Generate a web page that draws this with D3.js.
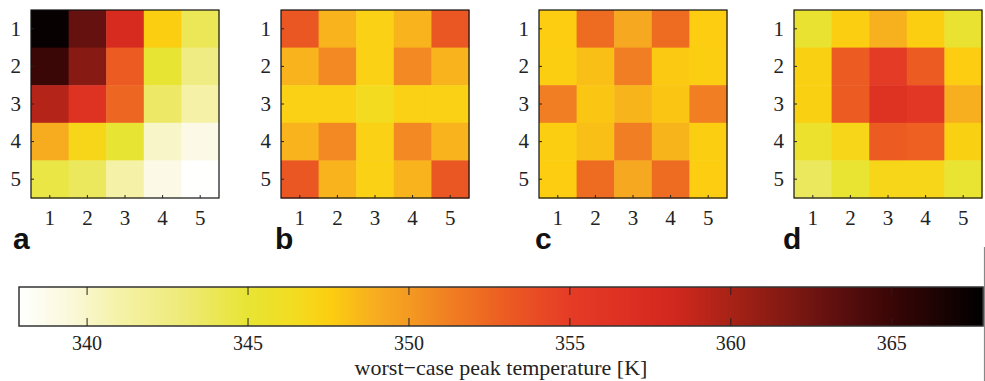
<!DOCTYPE html>
<html lang="en">
<head>
    <meta charset="UTF-8">
    <title>worst-case peak temperature</title>
    <style>
        html,body{
            margin:0;
            background:#fff;
            overflow:hidden;
        }
    </style>
</head>
<body>
    <svg id="svg"></svg>
    <script src="https://d3js.org/d3.v7.min.js"></script>
    <script>
        // peak temperature per cell [K], rows 1..5 (top to bottom), cols 1..5
        const panelA = [
            [367.5, 363.0, 357.5, 347.5, 344.0],
            [365.0, 361.5, 353.0, 345.0, 342.5],
            [359.5, 356.5, 352.5, 343.5, 341.0],
            [349.0, 347.0, 345.0, 340.0, 339.0],
            [344.5, 343.8, 341.0, 339.0, 338.0]
        ];
        const panelB = [
            [353.3, 348.7, 347.3, 348.7, 353.3],
            [348.7, 350.8, 347.3, 350.8, 348.7],
            [347.3, 347.3, 346.5, 347.3, 347.3],
            [348.7, 350.8, 347.3, 350.8, 348.7],
            [353.3, 348.7, 347.3, 348.7, 353.3]
        ];
        const panelC = [
            [347.6, 352.2, 349.2, 352.2, 347.6],
            [347.5, 348.2, 351.3, 347.8, 347.5],
            [351.3, 347.9, 348.6, 347.9, 351.3],
            [347.5, 348.2, 351.3, 348.6, 347.5],
            [347.6, 352.2, 349.2, 352.2, 347.6]
        ];
        const panelD = [
            [345.3, 347.5, 348.8, 347.5, 345.3],
            [347.4, 353.0, 355.2, 353.0, 347.6],
            [347.4, 353.0, 356.5, 355.7, 348.9],
            [345.5, 347.0, 353.0, 352.8, 347.4],
            [343.8, 345.2, 347.0, 347.0, 345.2]
        ];
        const panels = [
            { label: 'a', values: panelA },
            { label: 'b', values: panelB },
            { label: 'c', values: panelC },
            { label: 'd', values: panelD }
        ];
        const cells = [1, 2, 3, 4, 5];

        // colour scale
        const tempDomain = [337.9, 367.85];
        const stopValues = [337.9, 339.5, 341, 343, 345, 346.5, 347.6, 349, 350, 351.5, 353, 355, 357, 358.2, 360, 362, 363.5, 365, 367.85];
        const stopColors = ['#ffffff', '#faf8da', '#f5f2a8', '#eeea78', '#e8e434', '#f3dc20', '#fccd10', '#f7ac20', '#f49a22', '#f07a22',
            '#ec5c22', '#e53c26', '#dc2e22', '#d2281e', '#a82216', '#7c1812', '#5a0e0e', '#3a0606', '#000000'];
        const barTicks = [340, 345, 350, 355, 360, 365];
        const barTitle = 'worst\u2212case peak temperature [K]';

        const width = 985, height = 381;
        const svg = d3.select('#svg').attr('width', width).attr('height', height);

        const color = d3.scaleLinear().domain(stopValues).range(stopColors)
            .interpolate(d3.interpolateRgb).clamp(true);

        const panelLeft = [31, 281, 539, 794];
        const panelTop = 10, panelSize = 188;
        const letterX = [13, 275, 535, 783];

        panels.forEach((p, i) => {
            const g = svg.append('g').attr('transform', `translate(${panelLeft[i]},${panelTop})`);
            const x = d3.scaleBand().domain(cells).range([0, panelSize]);
            const y = d3.scaleBand().domain(cells).range([0, panelSize]);

            const rows = p.values.flatMap((row, r) => row.map((v, c) => ({ r: cells[r], c: cells[c], v })));
            g.selectAll('rect.cell').data(rows).join('rect')
                .attr('class', 'cell')
                .attr('x', d => x(d.c))
                .attr('y', d => y(d.r))
                .attr('width', x.bandwidth() + 0.5)
                .attr('height', y.bandwidth() + 0.5)
                .attr('fill', d => color(d.v));

            g.append('rect')
                .attr('width', panelSize).attr('height', panelSize)
                .attr('fill', 'none').attr('stroke', '#111').attr('stroke-width', 1.2);

            const xAxis = d3.axisBottom(x).tickSize(-3).tickPadding(12);
            g.append('g').attr('transform', `translate(0,${panelSize})`).call(xAxis)
                .call(a => a.select('.domain').remove());
            const yAxis = d3.axisLeft(y).tickSize(-3).tickPadding(10);
            g.append('g').call(yAxis)
                .call(a => a.select('.domain').remove());

            g.selectAll('.tick line').attr('stroke', '#222');
            g.selectAll('.tick text')
                .attr('font-family', '"Liberation Serif", "DejaVu Serif", serif')
                .attr('font-size', 21).attr('fill', '#222');

            svg.append('text')
                .attr('x', letterX[i]).attr('y', 249)
                .attr('font-family', '"Liberation Sans", Arial, sans-serif')
                .attr('font-weight', 'bold').attr('font-size', 30)
                .attr('fill', '#111')
                .text(p.label);
        });

        // colour bar
        const barLeft = 19, barRight = 983, barTop = 287, barH = 39;
        const bx = d3.scaleLinear().domain(tempDomain).range([barLeft, barRight]);
        const bar = svg.append('g');
        const steps = d3.range(barLeft, barRight, 1);
        bar.selectAll('rect').data(steps).join('rect')
            .attr('x', d => d)
            .attr('y', barTop)
            .attr('width', 1.5)
            .attr('height', barH)
            .attr('fill', d => color(bx.invert(d + 0.5)));
        bar.append('rect')
            .attr('x', barLeft).attr('y', barTop)
            .attr('width', barRight - barLeft).attr('height', barH)
            .attr('fill', 'none').attr('stroke', '#333').attr('stroke-width', 1.5);

        const barAxis = d3.axisBottom(bx).tickValues(barTicks).tickSize(-8).tickPadding(10);
        svg.append('g').attr('transform', `translate(0,${barTop + barH})`).call(barAxis)
            .call(a => a.select('.domain').remove())
            .call(a => a.selectAll('.tick line').attr('stroke', '#222'))
            .call(a => a.selectAll('.tick text')
                .attr('font-family', '"Liberation Serif", "DejaVu Serif", serif')
                .attr('font-size', 20).attr('fill', '#222'));
        svg.append('g').attr('transform', `translate(0,${barTop})`)
            .call(d3.axisTop(bx).tickValues(barTicks).tickSize(-8).tickFormat(''))
            .call(a => a.select('.domain').remove())
            .call(a => a.selectAll('.tick line').attr('stroke', '#222'));

        svg.append('text')
            .attr('x', 501).attr('y', 375)
            .attr('text-anchor', 'middle')
            .attr('font-family', '"Liberation Serif", "DejaVu Serif", serif')
            .attr('font-size', 22).attr('fill', '#222')
            .text(barTitle);

        // stray frame edge at the right of the figure
        svg.append('line')
            .attr('x1', 984.5).attr('x2', 984.5).attr('y1', 247).attr('y2', 381)
            .attr('stroke', '#888').attr('stroke-width', 1.2);
    </script>
</body>
</html>
